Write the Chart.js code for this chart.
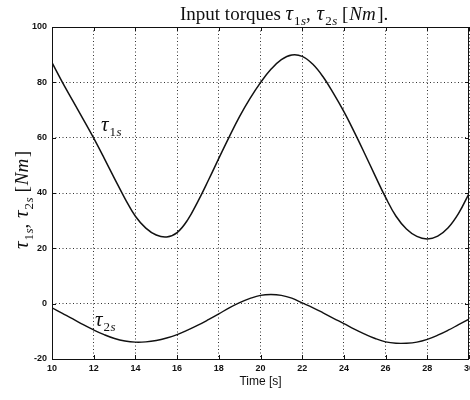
<!DOCTYPE html>
<html><head><meta charset="utf-8">
<script src="https://cdn.jsdelivr.net/npm/chart.js@4.4.1/dist/chart.umd.min.js"></script>
<style>html,body{margin:0;padding:0;background:#fff}</style>
</head><body>
<canvas id="c" width="470" height="400"></canvas>
<script>
// ---- data ----
const timeS = [10,10.5,11,11.5,12,12.5,13,13.5,14,14.5,15,15.5,16,16.5,17,17.5,18,18.5,19,19.5,20,20.5,21,21.5,22,22.5,23,23.5,24,24.5,25,25.5,26,26.5,27,27.5,28,28.5,29,29.5,30];
const tau1s = [87.1,80.0,73.3,66.6,59.8,52.6,45.2,38.0,31.6,27.3,24.8,24.1,25.7,30.2,37.0,44.6,52.5,60.3,67.7,74.2,79.9,84.7,88.2,89.9,89.4,86.6,82.0,76.0,69.4,62.0,54.2,46.2,38.4,31.6,27.0,24.3,23.4,24.4,27.4,32.6,39.8];
const tau2s = [-1.5,-3.5,-5.5,-7.6,-9.5,-11.2,-12.6,-13.5,-13.9,-13.8,-13.3,-12.4,-11.2,-9.6,-7.8,-5.8,-3.7,-1.5,0.4,1.9,3.0,3.3,3.0,2.0,0.3,-1.4,-3.3,-5.3,-7.2,-9.2,-11.0,-12.6,-13.8,-14.3,-14.3,-13.9,-12.9,-11.4,-9.6,-7.6,-5.6];
const xTicks = [10,12,14,16,18,20,22,24,26,28,30];
const yTicks = [-20,0,20,40,60,80,100];

const SERIF = "'Liberation Serif', 'Times New Roman', serif";
const SANS = "'Liberation Sans', Arial, sans-serif";

function drawPieces(ctx, pieces, x, y) {
  let cx = x;
  for (const p of pieces) {
    ctx.font = p.f;
    ctx.fillText(p.t, cx, y + (p.dy || 0));
    cx += ctx.measureText(p.t).width + (p.gap || 0);
  }
  return cx - x;
}
function piecesWidth(ctx, pieces) {
  let w = 0;
  for (const p of pieces) { ctx.font = p.f; w += ctx.measureText(p.t).width + (p.gap || 0); }
  return w;
}
function tauPieces(sub, big, small) {
  return [
    {t: 'τ', f: 'italic ' + big + 'px ' + SERIF, gap: 1},
    {t: sub[0], f: small + 'px ' + SERIF, dy: Math.round(small * 0.35), gap: 0.5},
    {t: sub.slice(1), f: 'italic ' + small + 'px ' + SERIF, dy: Math.round(small * 0.35)}
  ];
}

const decor = {
  id: 'decor',
  afterDraw(chart) {
    const {ctx, chartArea: a, scales: {x, y}} = chart;
    ctx.save();
    ctx.strokeStyle = '#111';
    ctx.lineWidth = 1;
    // box
    ctx.strokeRect(Math.round(a.left) + 0.5, Math.round(a.top) + 0.5, Math.round(a.right - a.left) - 1, Math.round(a.bottom - a.top));
    // inward ticks
    ctx.beginPath();
    const tl = 4;
    for (const v of xTicks) {
      const px = Math.round(x.getPixelForValue(v)) + 0.5;
      ctx.moveTo(px, a.bottom); ctx.lineTo(px, a.bottom - tl);
      ctx.moveTo(px, a.top); ctx.lineTo(px, a.top + tl);
    }
    for (const v of yTicks) {
      const py = Math.round(y.getPixelForValue(v)) + 0.5;
      ctx.moveTo(a.left, py); ctx.lineTo(a.left + tl, py);
      ctx.moveTo(a.right, py); ctx.lineTo(a.right - tl, py);
    }
    ctx.stroke();

    ctx.fillStyle = '#111';
    ctx.textBaseline = 'alphabetic';
    ctx.textAlign = 'left';
    // title
    const title = [{t: 'Input torques ', f: '19px ' + SERIF}]
      .concat(tauPieces('1s', 21, 13))
      .concat([{t: ', ', f: '19px ' + SERIF, gap: 1}])
      .concat(tauPieces('2s', 21, 13))
      .concat([{t: ' [', f: '19px ' + SERIF, gap: 1}, {t: 'Nm', f: 'italic 19px ' + SERIF, gap: 1.5}, {t: '].', f: '19px ' + SERIF}]);
    drawPieces(ctx, title, 180, 20);

    // curve labels
    drawPieces(ctx, tauPieces('1s', 21, 13), 101, 131);
    drawPieces(ctx, tauPieces('2s', 21, 13), 95, 326);

    // y axis label (rotated)
    const ylab = tauPieces('1s', 21, 13)
      .concat([{t: ', ', f: '19px ' + SERIF, gap: 1}])
      .concat(tauPieces('2s', 21, 13))
      .concat([{t: ' [', f: '19px ' + SERIF, gap: 1}, {t: 'Nm', f: 'italic 19px ' + SERIF, gap: 1.5}, {t: ']', f: '19px ' + SERIF}]);
    const w = piecesWidth(ctx, ylab);
    ctx.translate(28, 200);
    ctx.rotate(-Math.PI / 2);
    drawPieces(ctx, ylab, -w / 2, 0);
    ctx.restore();
  }
};

const toPts = (arr) => timeS.map((t, i) => ({x: t, y: arr[i]}));

new Chart(document.getElementById('c'), {
  type: 'line',
  data: {
    datasets: [
      {label: 'tau1s', data: toPts(tau1s), borderColor: '#111', borderWidth: 1.5, pointRadius: 0, tension: 0.4, fill: false},
      {label: 'tau2s', data: toPts(tau2s), borderColor: '#111', borderWidth: 1.4, pointRadius: 0, tension: 0.4, fill: false}
    ]
  },
  options: {
    responsive: false,
    animation: false,
    events: [],
    layout: {padding: {top: 27, left: 0, right: 1, bottom: 0}},
    plugins: {legend: {display: false}, tooltip: {enabled: false}, title: {display: false}},
    scales: {
      x: {
        type: 'linear', min: 10, max: 30,
        afterBuildTicks: (s) => { s.ticks = xTicks.map(v => ({value: v})); },
        afterFit: (s) => { s.height = 41; s.paddingLeft = 0; s.paddingRight = 0; },
        ticks: {color: '#111', font: {family: SANS, size: 9, weight: 'bold'}, padding: 4, maxRotation: 0, autoSkip: false},
        grid: {color: '#333', lineWidth: 1, drawTicks: false},
        border: {display: false, dash: [1, 2.5]},
        title: {display: true, text: 'Time [s]', color: '#111', font: {family: SANS, size: 12}, padding: {top: 0, bottom: 11}}
      },
      y: {
        type: 'linear', min: -20, max: 100,
        afterBuildTicks: (s) => { s.ticks = yTicks.map(v => ({value: v})); },
        afterFit: (s) => { s.width = 52; s.paddingTop = 0; s.paddingBottom = 0; },
        ticks: {color: '#111', font: {family: SANS, size: 9, weight: 'bold'}, padding: 5, autoSkip: false},
        grid: {color: '#333', lineWidth: 1, drawTicks: false},
        border: {display: false, dash: [1, 2.5]}
      }
    }
  },
  plugins: [decor]
});
</script>
</body></html>
